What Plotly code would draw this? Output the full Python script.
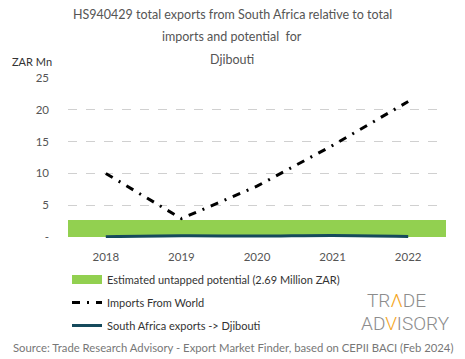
import plotly.graph_objects as go

years = ["2018", "2019", "2020", "2021", "2022"]
imports_world = [10.0, 2.9, 8.0, 14.4, 21.3]
sa_exports = [0.05, 0.2, 0.15, 0.25, 0.1]
untapped_potential = [2.69, 2.69, 2.69, 2.69, 2.69]
y_tick_vals = [0, 5, 10, 15, 20, 25]
y_tick_text = ["-", "5", "10", "15", "20", "25"]

FONT = "Lato"
GRAY = "#555555"
GREEN = "#92d050"

# figure geometry (page offset of 8px is compensated)
W, H = 465, 359
L, R, T, B = 60, 27, 70, 129
PW, PH = W - L - R, H - T - B


def px(x):
    return (x - L) / PW


def py(y):
    return (H - B - y) / PH


fig = go.Figure()
fig.add_trace(go.Bar(
    x=years, y=untapped_potential, width=1,
    marker=dict(color=GREEN, line=dict(width=0)),
    name="Estimated untapped potential (2.69 Million ZAR)",
    showlegend=False,
))
fig.add_trace(go.Scatter(
    x=[None], y=[None], mode="lines", line=dict(color=GREEN, width=9),
    name="Estimated untapped potential (2.69 Million ZAR)", legendgroup="a",
))
fig.add_trace(go.Scatter(
    x=years, y=imports_world, mode="lines",
    line=dict(color="black", width=3, dash="8px,7px,2px,7px"),
    name="Imports From World", legendgroup="b", cliponaxis=False,
))
fig.add_trace(go.Scatter(
    x=years, y=sa_exports, mode="lines", line_shape="spline",
    line=dict(color="#154a5c", width=3),
    name="South Africa exports -> Djibouti", legendgroup="c", cliponaxis=False,
))

annotations = []
title_lines = ["HS940429 total exports from South Africa relative to total",
               "imports and potential  for", "Djibouti"]
for i, t in enumerate(title_lines):
    annotations.append(dict(text=t, x=px(224), xref="paper", y=py(6 + 22.5 * i), yref="paper",
                            xanchor="center", yanchor="middle", showarrow=False,
                            font=dict(family=FONT, size=12.5, color=GRAY)))

annotations.append(dict(text="ZAR Mn", x=px(2), xref="paper", y=py(53), yref="paper",
                        xanchor="left", yanchor="middle", showarrow=False,
                        font=dict(family=FONT, size=11, color="#333333")))

annotations.append(dict(
    text="Source: Trade Research Advisory - Export Market Finder, based on CEPII BACI (Feb 2024)",
    x=px(225), xref="paper", y=py(339), yref="paper", showarrow=False,
    xanchor="center", yanchor="middle", font=dict(family=FONT, size=11.3, color="#777777")))

LOGO = "Roboto"
annotations.append(dict(
    text="TR<span style='color:#f5a623'>Λ</span>DE", x=px(357), xref="paper",
    y=py(292), yref="paper", showarrow=False, xanchor="left", yanchor="middle",
    font=dict(family=LOGO, size=19, color="#8c8c8c", weight=300)))
annotations.append(dict(
    text="AD<span style='color:#f5a623'>V</span>ISORY", x=px(444), xref="paper",
    y=py(315), yref="paper", showarrow=False, xanchor="right", yanchor="middle",
    font=dict(family=LOGO, size=19, color="#8c8c8c", weight=300)))

fig.update_layout(
    width=W, height=H,
    margin=dict(l=L, r=R, t=T, b=B),
    paper_bgcolor="white", plot_bgcolor="white",
    font=dict(family=FONT, size=11, color=GRAY),
    showlegend=True,
    legend=dict(orientation="v", x=px(59), xanchor="left", y=py(257), yanchor="top",
                traceorder="grouped", tracegroupgap=4,
                font=dict(family=FONT, size=11, color="#333333"),
                bgcolor="rgba(0,0,0,0)"),
    annotations=annotations,
    bargap=0,
)
fig.update_xaxes(type="category", range=[-0.5, 4.5], showgrid=False, showline=False,
                 ticks="", ticklabelstandoff=10, tickfont=dict(size=11.5, color=GRAY))
fig.update_yaxes(range=[-0.15, 25], tickvals=y_tick_vals, ticktext=y_tick_text,
                 showgrid=True, gridcolor="#d0d0d0", griddash="dash", gridwidth=1,
                 zeroline=False, showline=False, ticks="", ticklabelstandoff=18,
                 tickfont=dict(size=11.5, color=GRAY))

fig.write_html("out.html")
